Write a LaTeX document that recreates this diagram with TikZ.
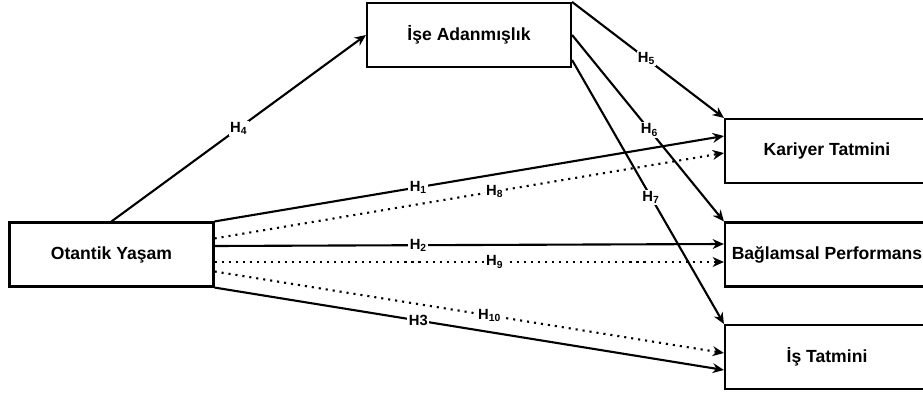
\documentclass[tikz,border=0pt]{standalone}
\usepackage{fontspec}
\setmainfont{Liberation Sans}
\usetikzlibrary{arrows.meta,calc}

\begin{document}
\begin{tikzpicture}[x=0.025cm, y=-0.025cm,
  kutu/.style={draw, line width=1.5pt, minimum width=5.1cm, minimum height=1.6cm,
    font=\bfseries\fontsize{12.5}{14}\selectfont},
  yol/.style={line width=1.5pt, -{Stealth[length=8pt,width=7pt]}},
  noktali/.style={yol, dash pattern=on 1.5pt off 3.5pt},
  hlab/.style={fill=white, inner sep=1pt, font=\bfseries\fontsize{10.5}{12}\selectfont}]
\useasboundingbox (0,0) rectangle (923,394);

% Boxes
\node[kutu] (ise) at (469,35) {İşe Adanmışlık};
\node[kutu] (oy) at (111.5,254.5) {Otantik Yaşam};
\node[kutu] (kt) at (827,151) {Kariyer Tatmini};
\node[kutu] (bp) at (827,254.5) {Bağlamsal Performans};
\node[kutu] (it) at (827,357) {İş Tatmini};

% from Otantik Yasam to Ise Adanmislik
\draw[yol] (oy.north) -- node[hlab, pos=0.5] {H\textsubscript{4}} (ise.west);

% from Ise Adanmislik
\draw[yol] (ise.north east) -- node[hlab, pos=0.49] {H\textsubscript{5}} (kt.north west);
\draw[yol] (ise.east) -- node[hlab, pos=0.51] {H\textsubscript{6}} (bp.north west);
\draw[yol] ($(ise.east)+(0,25)$) -- node[hlab, pos=0.52] {H\textsubscript{7}} (it.north west);

% direct paths
\draw[yol] (oy.north east) -- node[hlab, pos=0.40] {H\textsubscript{1}} ($(kt.west)+(0,-15)$);
\draw[yol] ($(oy.east)+(0,-8.5)$) -- node[hlab, pos=0.40] {H\textsubscript{2}} ($(bp.west)+(0,-10.5)$);
\draw[yol] (oy.south east) -- node[hlab, pos=0.40] {H3} ($(it.west)+(0,13)$);

% dotted paths
\draw[noktali] ($(oy.north east)+(0,17)$) -- node[hlab, pos=0.55] {H\textsubscript{8}} ($(kt.west)+(0,2)$);
\draw[noktali] ($(oy.east)+(0,7.5)$) -- node[hlab, pos=0.55] {H\textsubscript{9}} ($(bp.west)+(0,7.5)$);
\draw[noktali] ($(oy.east)+(0,17)$) -- node[hlab, pos=0.54] {H\textsubscript{10}} ($(it.west)+(0,-4)$);

\end{tikzpicture}
\end{document}
